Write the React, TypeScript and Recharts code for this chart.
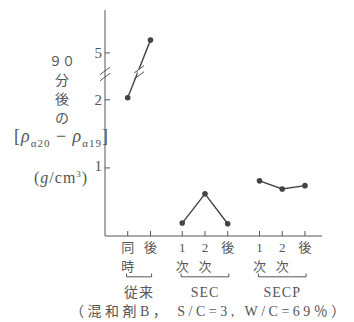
import { LineChart, Line, XAxis, YAxis, ReferenceLine } from 'recharts';

const categories = ['同時', '後', '1次', '2次', '後', '1次', '2次', '後'];
const categoryGroup = [0, 0, 1, 1, 1, 2, 2, 2];
const groupNames = ['従来', 'SEC', 'SECP'];

// 90分後の密度差 (g/cm3)
const conventional = [2.03, 5.75];
const sec = [0.19, 0.62, 0.18];
const secp = [0.81, 0.69, 0.74];

const yTickValues = [1, 2, 5];

const W = 354;
const H = 322;
const INK = '#555';
const FONT = '"Liberation Serif", "Noto Sans CJK JP", serif';

// 縦軸は 2 と 5 の間で省略されている
const toDisplay = (v: number) => (v < 3 ? v : 2.69 + (v - 5) * 0.25);

const GROUP_GAP = 0.4;
const xs = categories.map((_, i) => i + categoryGroup[i] * GROUP_GAP);

const seriesList = [conventional, sec, secp];
const rows = categories.map((_, i) => {
  const g = categoryGroup[i];
  const first = categoryGroup.indexOf(g);
  const row: any = { x: xs[i] };
  seriesList.forEach((s, k) => {
    row['s' + k] = k === g ? toDisplay(s[i - first]) : null;
  });
  return row;
});

const groupCenters = groupNames.map((_, g) => {
  const idx = xs.filter((_, i) => categoryGroup[i] === g);
  return (idx[0] + idx[idx.length - 1]) / 2;
});

const AXIS_X = 105;
const AXIS_Y = 236;

const YTick = (props: any) => {
  const { y, payload } = props;
  const label = yTickValues.find(v => Math.abs(toDisplay(v) - payload.value) < 1e-6);
  return (
    <g>
      <line x1={AXIS_X} x2={AXIS_X + 5} y1={y} y2={y} stroke={INK} strokeWidth={1} />
      <text
        x={AXIS_X - 3}
        y={y + (label === 1 ? 3 : 5)}
        textAnchor="end"
        fontSize={15}
        fill={INK}
        fontFamily={FONT}
      >
        {label}
      </text>
    </g>
  );
};

const XTick = (props: any) => {
  const { x, payload } = props;
  let i = 0;
  xs.forEach((v, k) => {
    if (Math.abs(v - payload.value) < Math.abs(xs[i] - payload.value)) i = k;
  });
  const label = categories[i];
  return (
    <g fontFamily={FONT} fontSize={13} fill={INK}>
      <line x1={x} x2={x} y1={AXIS_Y} y2={AXIS_Y - 5} stroke={INK} strokeWidth={1} />
      <text x={x} y={252} textAnchor="middle">{label[0]}</text>
      {label.length > 1 && (
        <text x={x} y={271} textAnchor="middle">{label.slice(1)}</text>
      )}
    </g>
  );
};

const GroupTick = (props: any) => {
  const { x, payload } = props;
  const g = groupCenters.findIndex(c => Math.abs(c - payload.value) < 1e-6);
  return (
    <text
      x={x}
      y={297}
      textAnchor="middle"
      fontSize={14}
      fill={INK}
      fontFamily={FONT}
      letterSpacing={1}
    >
      {groupNames[g]}
    </text>
  );
};

const Dot = (props: any) => {
  const { cx, cy, value } = props;
  if (value == null || cx == null) return null;
  return <circle key={`${cx}-${cy}`} cx={cx} cy={cy} r={2.8} fill="#444" />;
};

// 省略記号 "//"
const breakMarks = (x: number, y: number) => {
  const dx = 0.22;
  const dy = 0.055;
  const gap = 0.045;
  return [
    [{ x: x, y: y - gap }, { x: x, y: y + gap }, 'white', 3],
    [{ x: x - dx, y: y - gap - dy }, { x: x + dx, y: y - gap + dy }, INK, 1],
    [{ x: x - dx, y: y + gap - dy }, { x: x + dx, y: y + gap + dy }, INK, 1],
  ] as const;
};

const brackets = groupNames.map((_, g) => {
  const idx = xs.filter((_, i) => categoryGroup[i] === g);
  const a = idx[0] - 0.05;
  const b = idx[idx.length - 1] + 0.05;
  const yb = -0.6;
  const up = -0.55;
  return [
    [{ x: a, y: up }, { x: a, y: yb }],
    [{ x: a, y: yb }, { x: b, y: yb }],
    [{ x: b, y: yb }, { x: b, y: up }],
  ];
});

const convBreakX = (xs[0] + xs[1]) / 2;
const convBreakY = (toDisplay(conventional[0]) + toDisplay(conventional[1])) / 2;

export default function App() {
  const segs = [...breakMarks(-1, 2.38), ...breakMarks(convBreakX, convBreakY - 0.05)];
  return (
    <div
      style={{
        position: 'absolute',
        left: 0,
        top: 0,
        width: W,
        height: H,
        background: '#fff',
        overflow: 'hidden',
      }}
    >
      <LineChart
        width={W}
        height={H}
        data={rows}
        margin={{ top: 10, right: 32, bottom: 26, left: AXIS_X - 40 }}
      >
        <XAxis
          dataKey="x"
          type="number"
          domain={[-1, 8.55]}
          ticks={xs}
          height={30}
          tickLine={false}
          axisLine={{ stroke: INK, strokeWidth: 1 }}
          tick={<XTick />}
          interval={0}
        />
        <XAxis
          xAxisId="group"
          dataKey="x"
          type="number"
          domain={[-1, 8.55]}
          ticks={groupCenters}
          height={30}
          tickLine={false}
          axisLine={false}
          tick={<GroupTick />}
          interval={0}
        />
        <YAxis
          type="number"
          domain={[0, 3.32]}
          ticks={yTickValues.map(toDisplay)}
          width={40}
          tickLine={false}
          axisLine={{ stroke: INK, strokeWidth: 1 }}
          tick={<YTick />}
          interval={0}
        />
        {seriesList.map((_, k) => (
          <Line
            key={k}
            dataKey={'s' + k}
            stroke="#444"
            strokeWidth={1.4}
            dot={<Dot />}
            activeDot={false}
            connectNulls={false}
            isAnimationActive={false}
          />
        ))}
        {segs.map((s, k) => (
          <ReferenceLine
            key={'b' + k}
            segment={[s[0], s[1]]}
            stroke={s[2]}
            strokeWidth={s[3]}
            ifOverflow="visible"
          />
        ))}
        {brackets.flat().map((s, k) => (
          <ReferenceLine
            key={'g' + k}
            segment={s}
            stroke={INK}
            strokeWidth={1}
            ifOverflow="visible"
          />
        ))}
      </LineChart>
      <div
        style={{
          position: 'absolute',
          left: 0,
          top: 0,
          width: W,
          height: H,
          pointerEvents: 'none',
          fontFamily: FONT,
          color: INK,
        }}
      >
        {['９０', '分', '後', 'の'].map((t, i) => (
          <div
            key={t}
            style={{
              position: 'absolute',
              left: 44,
              width: 36,
              textAlign: 'center',
              top: 53 + i * 19,
              fontSize: t.length > 1 ? 13 : 14,
              lineHeight: '18px',
              letterSpacing: 0,
            }}
          >
            {t}
          </div>
        ))}
        <div
          style={{
            position: 'absolute',
            left: 14,
            top: 126,
            fontSize: 18,
            lineHeight: '20px',
            whiteSpace: 'nowrap',
            letterSpacing: 1,
          }}
        >
          [<i>ρ</i>
          <sub style={{ fontSize: 11 }}>α20</sub> − <i>ρ</i>
          <sub style={{ fontSize: 11 }}>α19</sub>]
        </div>
        <div
          style={{
            position: 'absolute',
            left: 34,
            top: 164,
            fontSize: 16,
            lineHeight: '20px',
            whiteSpace: 'nowrap',
            letterSpacing: 1,
          }}
        >
          (<i>g</i>/cm<sup style={{ fontSize: 9 }}>3</sup>)
        </div>
        <div
          style={{
            position: 'absolute',
            left: 70,
            top: 303,
            fontSize: 14,
            lineHeight: '18px',
            whiteSpace: 'nowrap',
            letterSpacing: 3.5,
          }}
        >
          （混和剤B， S/C=3, W/C=69％）
        </div>
      </div>
    </div>
  );
}
